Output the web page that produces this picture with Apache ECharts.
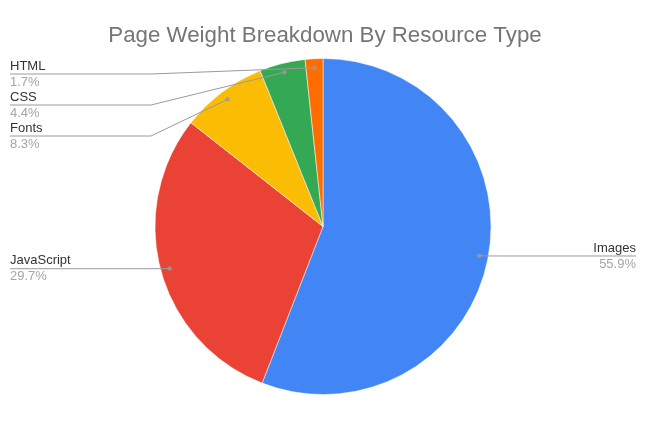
<!DOCTYPE html>
<html><head><meta charset="utf-8">
<script src="https://cdn.jsdelivr.net/npm/echarts@6/dist/echarts.min.js"></script>
<style>html,body{margin:0;padding:0;background:#fff}#c{width:650px;height:447px}</style>
</head><body><div id="c"></div>
<script>
const titleText = 'Page Weight Breakdown By Resource Type';
const categories = ['Images', 'JavaScript', 'Fonts', 'CSS', 'HTML'];
const shares = [55.9, 29.7, 8.3, 4.4, 1.7];
const colors = ['#4285f4', '#ea4335', '#fbbc04', '#34a853', '#ff6d01'];

const CX = 323, CY = 226.5, R = 168, RL = 159;
const LABEL_TOP = CY - R;
const FONT = '"Liberation Sans", Arial, sans-serif';

const pieData = categories.map((n, i) => ({ name: n, value: shares[i], itemStyle: { color: colors[i] } }));
const labelData = categories.map((n, i) => ({ name: n, value: shares[i] }));
let cum = 0;
const dotData = shares.map(v => { const mid = cum + v / 2; cum += v; return [RL / R, mid]; });

const chart = echarts.init(document.getElementById('c'), null, { renderer: 'canvas' });
chart.setOption({
  animation: false,
  backgroundColor: '#fff',
  title: {
    text: titleText, left: 'center', top: 20,
    textStyle: { fontFamily: FONT, fontSize: 22.3, fontWeight: 'normal', color: '#757575' }
  },
  polar: { center: [CX, CY], radius: R },
  angleAxis: { type: 'value', min: 0, max: 100, startAngle: 90, clockwise: true, show: false },
  radiusAxis: { type: 'value', min: 0, max: 1, show: false },
  series: [
    {
      type: 'pie', center: [CX, CY], radius: R, startAngle: 90, clockwise: true,
      silent: true, label: { show: false }, labelLine: { show: false },
      itemStyle: { borderColor: '#fff', borderWidth: 0.5 },
      data: pieData, z: 1
    },
    {
      type: 'pie', left: 0, right: 4, top: LABEL_TOP, bottom: 0,
      center: [CX, CY - LABEL_TOP], radius: RL, startAngle: 90, clockwise: true,
      silent: true,
      itemStyle: { color: 'rgba(0,0,0,0)' },
      label: {
        show: true, alignTo: 'edge', edgeDistance: 10,
        formatter: '{n|{b}}\n{v|{c}%}',
        rich: {
          n: { fontFamily: FONT, fontSize: 13, color: '#333333', lineHeight: 16 },
          v: { fontFamily: FONT, fontSize: 13, color: '#a5a5a5', lineHeight: 16 }
        }
      },
      labelLine: { show: true, length: 1, length2: 10, lineStyle: { color: '#9a9a9a', width: 1 } },
      labelLayout: function (p) {
        const pts = p.labelLinePoints;
        if (!pts) return {};
        const r = p.labelRect;
        const isLeft = (r.x + r.width / 2) < CX;
        const y = pts[2][1];
        pts[1] = [isLeft ? CX - R - 4 : CX + R + 4, y];
        pts[2] = [isLeft ? r.x : r.x + r.width, y];
        return { labelLinePoints: pts };
      },
      data: labelData, z: 3
    },
    {
      type: 'scatter', coordinateSystem: 'polar', silent: true,
      symbol: 'circle', symbolSize: 4.5,
      itemStyle: { color: '#9a9a9a' },
      data: dotData, z: 4
    }
  ]
});
</script></body></html>
